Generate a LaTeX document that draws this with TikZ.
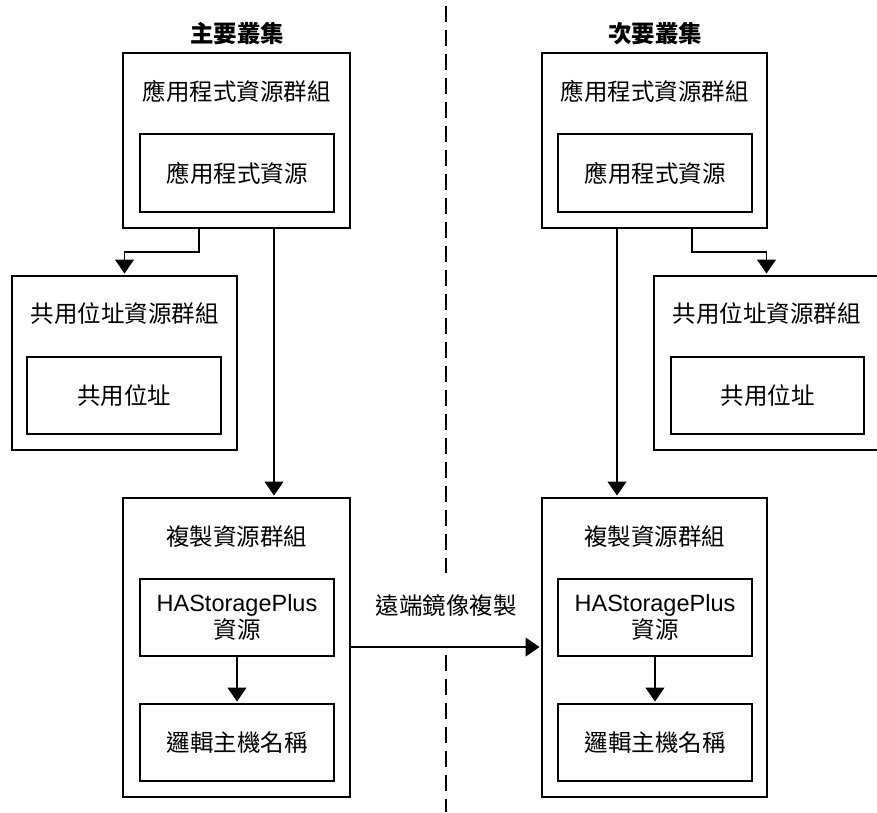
\documentclass[tikz,border=0pt]{standalone}
\usepackage{fontspec}
\setmainfont{Noto Sans CJK TC}
\newfontfamily\latinfont{Liberation Sans}
\usetikzlibrary{arrows.meta}
\tikzset{
  box/.style={draw, line width=1.2pt, inner sep=0pt, outer sep=0pt},
  lbl/.style={font=\fontsize{23.5}{27}\selectfont, inner sep=0pt},
  ttl/.style={font=\bfseries\fontsize{23.5}{27}\selectfont, inner sep=0pt},
  arr/.style={line width=1.2pt, -{Triangle[length=14pt,width=19pt]}, shorten >=2.5pt},
  sep/.style={line width=1.2pt, dash pattern=on 16pt off 8pt}
}
\begin{document}
\begin{tikzpicture}[x=1pt,y=-1pt]
\useasboundingbox (0,0) rectangle (877,812);
% titles
\node[ttl] (tL) at (237,34) {主要叢集};
\node[ttl] (tR) at (655,34) {次要叢集};
% left column
\node[box, minimum width=227pt, minimum height=175pt] (appL) at (236.5,140.5) {};
\node[lbl] (appLt) at (236.5,91) {應用程式資源群組};
\node[box, lbl, minimum width=194pt, minimum height=78pt] (appLi) at (237,173) {應用程式資源};
\node[box, minimum width=225pt, minimum height=174pt] (shL) at (124.5,363) {};
\node[lbl] (shLt) at (124.5,314) {共用位址資源群組};
\node[box, lbl, minimum width=194pt, minimum height=77pt] (shLi) at (124,395.5) {共用位址};
\node[box, minimum width=227pt, minimum height=299pt] (repL) at (236.5,647.5) {};
\node[lbl] (repLt) at (236.5,537) {複製資源群組};
\node[box, lbl, align=center, minimum width=194pt, minimum height=77pt] (haL) at (237,617.5) {{\latinfont HAStoragePlus}\\資源};
\node[box, lbl, minimum width=194pt, minimum height=77pt] (lhL) at (237,742.5) {邏輯主機名稱};
% right column
\node[box, minimum width=225pt, minimum height=175pt] (appR) at (654.5,140.5) {};
\node[lbl] (appRt) at (654.5,91) {應用程式資源群組};
\node[box, lbl, minimum width=194pt, minimum height=78pt] (appRi) at (655,173) {應用程式資源};
\node[box, minimum width=225pt, minimum height=174pt] (shR) at (766.5,363) {};
\node[lbl] (shRt) at (766.5,314) {共用位址資源群組};
\node[box, lbl, minimum width=193pt, minimum height=77pt] (shRi) at (767.5,395.5) {共用位址};
\node[box, minimum width=225pt, minimum height=299pt] (repR) at (654.5,647.5) {};
\node[lbl] (repRt) at (654.5,537) {複製資源群組};
\node[box, lbl, align=center, minimum width=194pt, minimum height=77pt] (haR) at (655,617.5) {{\latinfont HAStoragePlus}\\資源};
\node[box, lbl, minimum width=194pt, minimum height=77pt] (lhR) at (655,742.5) {邏輯主機名稱};
% connectors
\coordinate (eL) at (199,252);
\coordinate (vL) at (274,0);
\coordinate (eR) at (692,252);
\coordinate (vR) at (617,0);
\draw[arr] (appL.south -| eL) -- (eL) -| (shL.north);
\draw[arr] (appL.south -| vL) -- (repL.north -| vL);
\draw[arr] (appR.south -| eR) -- (eR) -| (shR.north);
\draw[arr] (appR.south -| vR) -- (repR.north -| vR);
\draw[arr] (haL) -- (lhL);
\draw[arr] (haR) -- (lhR);
\coordinate (rp) at (0,647);
\draw[arr] (repL.east |- rp) -- (repR.west |- rp);
\node[lbl] (rlbl) at (446,606) {遠端鏡像複製};
% separator
\coordinate (d1) at (446,6);
\coordinate (d2) at (446,573);
\coordinate (d3) at (446,655);
\coordinate (d4) at (446,812);
\draw[sep] (d1) -- (d2);
\draw[sep] (d3) -- (d4);
\end{tikzpicture}
\end{document}
